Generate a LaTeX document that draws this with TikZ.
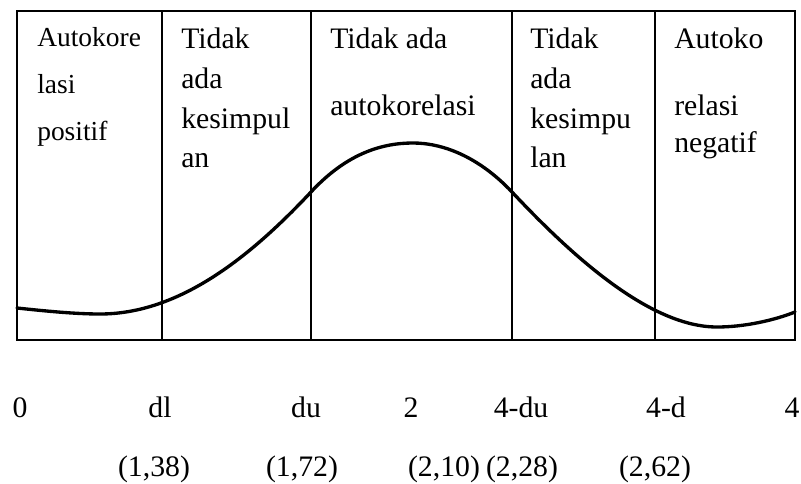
\documentclass[tikz,border=0pt]{standalone}
\usepackage{fontspec}
\setmainfont{Liberation Serif}
\begin{document}
\begin{tikzpicture}[x=0.75pt,y=-0.75pt,
  lbl/.style={anchor=base west,inner sep=0pt,font=\fontsize{22.3}{26}\selectfont},
  lblA/.style={lbl,font=\fontsize{20.6}{24}\selectfont},
  axl/.style={anchor=base,inner sep=0pt,font=\fontsize{22.3}{26}\selectfont},
  frame/.style={line width=1.1pt},
  curvestyle/.style={line width=2.5pt,line cap=round}]
\useasboundingbox (0,0) rectangle (801,483);
% frame
\coordinate (tl) at (17,11);
\coordinate (br) at (795,340);
\draw[frame] (tl) rectangle (br);
\foreach \x/\n in {162/a,311/b,512/c,655/d}{
  \coordinate (t\n) at (\x,11);
  \coordinate (b\n) at (\x,340);
  \draw[frame] (t\n) -- (b\n);
}
% curve
\coordinate (c0) at (17,308);
\coordinate (c1) at (100,314);
\coordinate (c2) at (311,192);
\coordinate (c3) at (413,143);
\coordinate (c4) at (512,192);
\coordinate (c5) at (717,327);
\coordinate (c6) at (795,312);
\draw[curvestyle] (c0) .. controls (45,311) and (75,314) .. (c1)
  .. controls (180,314) and (251,256) .. (c2)
  .. controls (348,152) and (384,143) .. (c3)
  .. controls (442,143) and (478,156) .. (c4)
  .. controls (572,256) and (650,327) .. (c5)
  .. controls (745,327) and (775,320) .. (c6);
% box texts
\node[lblA] (p1) at (37,46) {Autokore};
\node[lblA] (p2) at (37,93) {lasi};
\node[lblA] (p3) at (37,140) {positif};
\node[lbl] (q1) at (181,48) {Tidak};
\node[lbl] (q2) at (181,88) {ada};
\node[lbl] (q3) at (181,128) {kesimpul};
\node[lbl] (q4) at (181,167) {an};
\node[lbl] (r1) at (330,48) {Tidak ada};
\node[lbl] (r2) at (330,115) {autokorelasi};
\node[lbl] (s1) at (530,48) {Tidak};
\node[lbl] (s2) at (530,88) {ada};
\node[lbl] (s3) at (530,128) {kesimpu};
\node[lbl] (s4) at (530,167) {lan};
\node[lbl] (u1) at (674,48) {Autoko};
\node[lbl] (u2) at (674,115) {relasi};
\node[lbl] (u3) at (674,152) {negatif};
% axis labels
\node[axl] (x0) at (20,417) {0};
\node[axl] (x1) at (160,417) {dl};
\node[axl] (x2) at (306,417) {du};
\node[axl] (x3) at (411,417) {2};
\node[axl] (x4) at (521,417) {4-du};
\node[axl] (x5) at (666,417) {4-d};
\node[axl] (x6) at (792,417) {4};
\node[axl] (v1) at (154,476) {(1,38)};
\node[axl] (v2) at (302,476) {(1,72)};
\node[axl] (v3) at (444,476) {(2,10)};
\node[axl] (v4) at (522,476) {(2,28)};
\node[axl] (v5) at (655,476) {(2,62)};
\end{tikzpicture}
\end{document}
